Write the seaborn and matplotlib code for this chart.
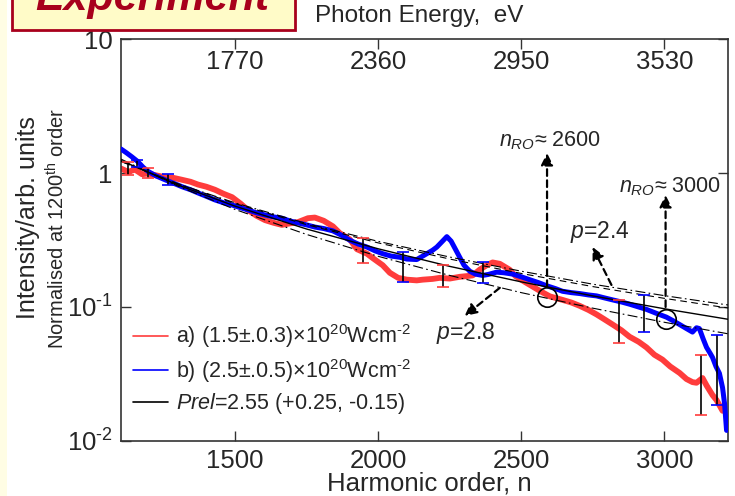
import numpy as np
import pandas as pd
import matplotlib
matplotlib.use("Agg")
import matplotlib.pyplot as plt
import seaborn as sns
from matplotlib.lines import Line2D
from matplotlib.patches import Rectangle
from matplotlib.ticker import NullLocator

# ---------------- data ----------------
red_n = [1102, 1127, 1151, 1175, 1196, 1225, 1256, 1285, 1315, 1345, 1371, 1400,
         1430, 1460, 1490, 1520, 1545, 1575, 1605, 1635, 1664, 1690, 1720, 1755,
         1779, 1810, 1842, 1866, 1901, 1926, 1961, 1981, 2016, 2041, 2070, 2100,
         2135, 2156, 2190, 2215, 2250, 2285, 2309, 2330, 2355, 2379, 2400, 2425,
         2459, 2480, 2510, 2540, 2570, 2600, 2644, 2675, 2704, 2735, 2763, 2790,
         2819, 2850, 2878, 2910, 2937, 2965, 2993, 3020, 3053, 3077, 3098, 3112,
         3133, 3147, 3157, 3168, 3182, 3192, 3203]
red_I = [1.08, 1.02, 1.06, 0.98, 0.99, 0.96, 0.93, 0.92, 0.89, 0.86, 0.82, 0.79,
         0.75, 0.70, 0.66, 0.59, 0.53, 0.48, 0.445, 0.425, 0.41, 0.42, 0.43, 0.46,
         0.465, 0.44, 0.40, 0.356, 0.32, 0.27, 0.25, 0.232, 0.205, 0.18, 0.165, 0.16,
         0.158, 0.16, 0.162, 0.165, 0.163, 0.168, 0.17, 0.172, 0.19, 0.205, 0.215, 0.21,
         0.19, 0.17, 0.155, 0.142, 0.13, 0.12, 0.113, 0.108, 0.102, 0.095, 0.088, 0.081,
         0.074, 0.067, 0.060, 0.055, 0.050, 0.044, 0.0405, 0.036, 0.0322, 0.029, 0.0275, 0.0272,
         0.0295, 0.026, 0.024, 0.022, 0.0202, 0.0185, 0.0168]

blue_n = [1102, 1120, 1140, 1160, 1180, 1196, 1225, 1256, 1285, 1315, 1345, 1371,
          1400, 1430, 1460, 1490, 1520, 1545, 1575, 1605, 1635, 1664, 1690, 1720,
          1750, 1779, 1810, 1842, 1870, 1901, 1930, 1961, 1990, 2016, 2045, 2076,
          2100, 2135, 2156, 2170, 2190, 2205, 2225, 2240, 2255, 2270, 2285, 2300,
          2320, 2340, 2365, 2385, 2414, 2440, 2470, 2500, 2529, 2560, 2589, 2620,
          2644, 2675, 2704, 2735, 2763, 2790, 2819, 2850, 2878, 2910, 2937, 2970,
          3007, 3030, 3053, 3077, 3098, 3112, 3122, 3135, 3147, 3160, 3168, 3180,
          3192, 3203, 3210, 3217]
blue_I = [1.51, 1.42, 1.32, 1.22, 1.10, 1.03, 0.95, 0.89, 0.84, 0.79, 0.75, 0.71,
          0.67, 0.63, 0.60, 0.577, 0.55, 0.53, 0.505, 0.486, 0.47, 0.46, 0.44, 0.424,
          0.41, 0.395, 0.385, 0.37, 0.345, 0.315, 0.295, 0.28, 0.262, 0.25, 0.24, 0.235,
          0.228, 0.226, 0.24, 0.25, 0.265, 0.28, 0.31, 0.335, 0.31, 0.27, 0.235, 0.205,
          0.185, 0.176, 0.172, 0.175, 0.182, 0.18, 0.176, 0.168, 0.16, 0.152, 0.144, 0.137,
          0.131, 0.128, 0.126, 0.123, 0.121, 0.117, 0.113, 0.109, 0.105, 0.100, 0.096, 0.090,
          0.084, 0.079, 0.074, 0.069, 0.065, 0.070, 0.069, 0.058, 0.050, 0.045, 0.042, 0.036,
          0.032, 0.025, 0.019, 0.012]

fit_n = [1102, 1300, 1500, 1750, 2000, 2250, 2500, 2750, 3000, 3222]
fit_p255 = [1.24, 0.815, 0.566, 0.382, 0.272, 0.201, 0.154, 0.121, 0.097, 0.081]
fit_p23 = [1.22, 0.832, 0.599, 0.420, 0.309, 0.236, 0.185, 0.148, 0.1215, 0.1035]
fit_p235 = [1.222, 0.829, 0.592, 0.412, 0.301, 0.228, 0.178, 0.142, 0.116, 0.0983]
fit_p28 = [1.27, 0.799, 0.535, 0.348, 0.239, 0.172, 0.128, 0.098, 0.0769, 0.0631]

# error bars: position, low, high
err_red_n = [1127, 1196, 1946, 2226, 2843, 3129]
err_red_lo = [0.966, 0.918, 0.213, 0.141, 0.0538, 0.0156]
err_red_hi = [1.21, 1.09, 0.33, 0.206, 0.113, 0.0438]
err_blue_n = [1158, 1266, 2086, 2365, 2927, 3185]
err_blue_lo = [1.11, 0.81, 0.154, 0.151, 0.065, 0.0186]
err_blue_hi = [1.25, 0.98, 0.257, 0.217, 0.123, 0.0618]

circle_n = [2589, 3004]
circle_I = [0.119, 0.0813]

x_ticks = [1500, 2000, 2500, 3000]
energy_labels = ["1770", "2360", "2950", "3530"]
y_ticks = [0.01, 0.1, 1, 10]
y_labels = ["$10^{\u2010 2}$", "$10^{\u2010 1}$", "1", "10"]

legend_labels = ["a) (1.5\u00b1.0.3)\u00d710$^{20}$Wcm$^{\u2010 2}$",
                 "b) (2.5\u00b1.0.5)\u00d710$^{20}$Wcm$^{\u2010 2}$",
                 "$\\mathit{Prel}$=2.55 (+0.25, -0.15)"]

RED = "#ff3c3c"
BLUE = "#0000ff"

# ---------------- style ----------------
sns.set_theme(style="ticks")
plt.rcParams["font.family"] = ["Liberation Sans", "DejaVu Sans"]
plt.rcParams["mathtext.fontset"] = "custom"
plt.rcParams["mathtext.rm"] = "Liberation Sans"
plt.rcParams["mathtext.it"] = "Liberation Sans:italic"
plt.rcParams["mathtext.bf"] = "Liberation Sans:bold"
plt.rcParams["mathtext.default"] = "regular"

W, H = 735, 496
fig = plt.figure(figsize=(W / 100, H / 100), dpi=100)
fig.patch.set_facecolor("white")
fig.patches.append(Rectangle((0, 0), 7 / W, 1, transform=fig.transFigure,
                             facecolor="#fffde4", edgecolor="none", zorder=0))

ax = fig.add_axes([121 / W, 55 / H, 607 / W, 402 / H])

df_red = pd.DataFrame({"n": red_n, "I": red_I})
df_blue = pd.DataFrame({"n": blue_n, "I": blue_I})
sns.lineplot(data=df_red, x="n", y="I", ax=ax, color=RED, lw=4.2,
             estimator=None, sort=False, zorder=2)
sns.lineplot(data=df_blue, x="n", y="I", ax=ax, color=BLUE, lw=3.6,
             estimator=None, sort=False, zorder=3)

fits = [(fit_p255, "-", 1.0), (fit_p23, (0, (9, 3, 1.5, 3)), 0.8),
        (fit_p235, (0, (6, 4)), 0.8), (fit_p28, (0, (9, 3, 1.5, 3)), 0.8)]
for vals, ls, lw in fits:
    sns.lineplot(x=fit_n, y=vals, ax=ax, color="black", lw=lw, linestyle=ls,
                 estimator=None, sort=False, zorder=4)

def draw_err(ns, lo, hi, capcol):
    lo = np.array(lo); hi = np.array(hi)
    mid = np.sqrt(lo * hi)
    cont = ax.errorbar(ns, mid, yerr=[mid - lo, hi - mid], fmt="none", ecolor="black",
                       elinewidth=1.2, capsize=4, capthick=1.2, zorder=5)
    for cap in cont.lines[1]:
        cap.set_markeredgecolor(capcol)
        cap.set_color(capcol)

draw_err(err_red_n, err_red_lo, err_red_hi, RED)
draw_err(err_blue_n, err_blue_lo, err_blue_hi, BLUE)

ax.plot(circle_n, circle_I, "o", mfc="none", mec="black", ms=14, mew=1.2, zorder=6)

ax.set_yscale("log")
ax.set_xlim(1102, 3222)
ax.set_ylim(0.01, 10)
ax.set_xticks(x_ticks)
ax.set_xticklabels([str(t) for t in x_ticks])
ax.set_yticks(y_ticks)
ax.set_yticklabels(y_labels)
ax.yaxis.set_minor_locator(NullLocator())
ax.xaxis.set_minor_locator(NullLocator())
ax.tick_params(axis="both", direction="in", length=7, width=1.0, labelsize=18.5,
               color="#333333", right=True, top=False, pad=6)
ax.set_xlabel("")
ax.set_ylabel("")
for sp in ax.spines.values():
    sp.set_color("#333333")
    sp.set_linewidth(1.2)

ax2 = ax.twiny()
ax2.set_xlim(ax.get_xlim())
ax2.set_xticks(x_ticks)
ax2.set_xticklabels(energy_labels)
ax2.xaxis.set_minor_locator(NullLocator())
ax2.tick_params(axis="x", direction="in", length=7, width=1.0, labelsize=18.5,
                color="#333333", pad=-25)
for sp in ax2.spines.values():
    sp.set_visible(False)

# annotations
arrow_kw = dict(arrowstyle="-|>", linestyle=(0, (3, 2)), color="black", lw=1.6,
                mutation_scale=18, shrinkA=0, shrinkB=0)
ax.annotate("", xy=(2590, 1.41), xytext=(2590, 0.141), arrowprops=arrow_kw, zorder=7)
ax.annotate("", xy=(3004, 0.685), xytext=(3004, 0.10), arrowprops=arrow_kw, zorder=7)
ax.annotate("", xy=(2749, 0.28), xytext=(2815, 0.146), arrowprops=arrow_kw, zorder=7)
ax.annotate("", xy=(2302, 0.0857), xytext=(2425, 0.139), arrowprops=arrow_kw, zorder=7)

ax.text(2599, 1.43, "$\\mathit{n}_{\\mathit{RO}}$\u2248 2600", fontsize=15.5,
        ha="center", va="bottom", zorder=8)
ax.text(3021, 0.65, "$\\mathit{n}_{\\mathit{RO}}$\u2248 3000", fontsize=15.5,
        ha="center", va="bottom", zorder=8)
ax.text(2774, 0.363, "$\\mathit{p}$=2.4", fontsize=16.5, ha="center", va="center", zorder=8)
ax.text(2306, 0.064, "$\\mathit{p}$=2.8", fontsize=16.5, ha="center", va="center", zorder=8)

handles = [Line2D([0], [0], color=RED, lw=1.2),
           Line2D([0], [0], color=BLUE, lw=1.2),
           Line2D([0], [0], color="black", lw=1.2)]
ax.legend(handles, legend_labels, loc="upper left", bbox_to_anchor=(0.02, 0.295),
          frameon=False, fontsize=15.5, handlelength=1.6, handletextpad=0.4,
          labelspacing=0.3, borderpad=0, borderaxespad=0)

# labels
fig.text(28 / W, 1 - 218 / H, "Intensity/arb. units", rotation=90, fontsize=18,
         ha="center", va="center")
fig.text(57 / W, 1 - 228 / H, "Normalised at 1200$^{th}$ order", rotation=90,
         fontsize=14.5, ha="center", va="center")
fig.text(429 / W, 1 - 484 / H, "Harmonic order, n", fontsize=18.5, ha="center", va="center")
fig.text(419 / W, 1 - 16 / H, "Photon Energy,  eV", fontsize=17.5, ha="center", va="center")

# "Experiment" tag
fig.patches.append(Rectangle((12 / W, 1 - 30 / H), 283 / W, 45 / H, transform=fig.transFigure,
                             facecolor="#fffbc8", edgecolor="#a8001c", lw=2, zorder=1))
fig.text(152 / W, 1 - 10 / H, "Experiment", fontsize=31, fontweight="bold",
         fontstyle="italic", color="#a8001c", ha="center", va="baseline", zorder=2)

fig.savefig("out.png", dpi=100)
